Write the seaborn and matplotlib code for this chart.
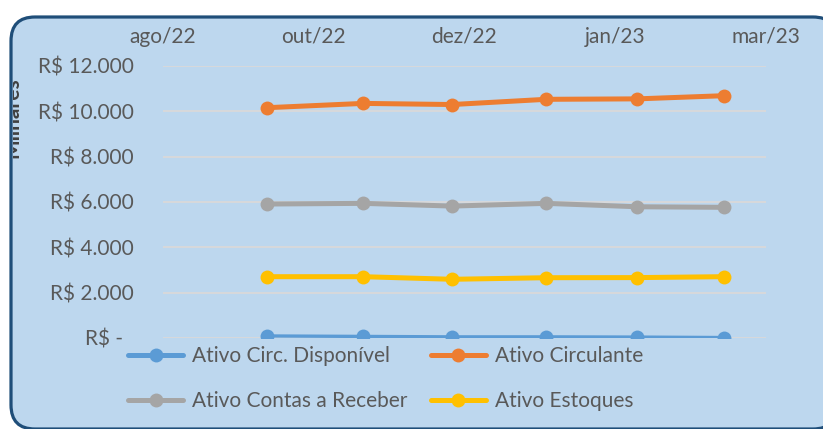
import pandas as pd
import matplotlib
matplotlib.use("Agg")
import matplotlib.pyplot as plt
from matplotlib.patches import FancyBboxPatch
from matplotlib.transforms import IdentityTransform, Bbox
import seaborn as sns

# dates of the six observations
DATES = ["2022-09-12", "2022-10-21", "2022-11-26", "2023-01-03", "2023-02-09", "2023-03-16"]

DISPONIVEL = [90, 70, 50, 50, 40, 20]
CIRCULANTE = [10160, 10350, 10300, 10530, 10550, 10690]
CONTAS_RECEBER = [5910, 5940, 5820, 5940, 5790, 5765]
ESTOQUES = [2705, 2705, 2590, 2660, 2665, 2705]

SERIES = ["Ativo Circ. Disponível", "Ativo Contas a Receber", "Ativo Circulante", "Ativo Estoques"]
COLORS = ["#5B9BD5", "#A5A5A5", "#ED7D31", "#FFC000"]

X_TICK_DATES = ["2022-08-01", "2022-10-01", "2022-12-01", "2023-01-31", "2023-04-02"]
X_TICK_LABELS = ["ago/22", "out/22", "dez/22", "jan/23", "mar/23"]
Y_TICKS = [0, 2000, 4000, 6000, 8000, 10000, 12000]

TEXT_COLOR = "#595959"
BG_COLOR = "#BDD7EE"
FS = 15

sns.set_theme(style="white")
plt.rcParams["font.family"] = ["Lato", "DejaVu Sans"]

values = {
    "Ativo Circ. Disponível": DISPONIVEL,
    "Ativo Contas a Receber": CONTAS_RECEBER,
    "Ativo Circulante": CIRCULANTE,
    "Ativo Estoques": ESTOQUES,
}
frames = []
for name in SERIES:
    frames.append(pd.DataFrame({"data": pd.to_datetime(DATES), "valor": values[name], "serie": name}))
df = pd.concat(frames, ignore_index=True)

fig = plt.figure(figsize=(8.23, 4.29), dpi=100)
fig.patch.set_facecolor("white")

# rounded chart area (runs off the right and bottom edges)
box = FancyBboxPatch((11, 0), 826, 412, boxstyle="round,pad=0,rounding_size=24",
                     transform=IdentityTransform(), facecolor=BG_COLOR,
                     edgecolor="#1F4E79", linewidth=2.3, zorder=0)
fig.add_artist(box)

ax = fig.add_axes([163 / 823, 91 / 429, 603 / 823, 272 / 429])
ax.set_facecolor("none")

for name, color in zip(SERIES, COLORS):
    sub = df[df["serie"] == name]
    lw = 2.4 if name == "Ativo Circ. Disponível" else 3.6
    sns.lineplot(data=sub, x="data", y="valor", ax=ax, color=color, linewidth=lw,
                 marker="o", markersize=10, markeredgewidth=0, label=name)

ax.set_ylim(0, 12000)
ax.set_yticks(Y_TICKS)
ax.set_yticklabels(["R$ -  "] + [f"R$ {v:,}".replace(",", ".") for v in Y_TICKS[1:]])
ax.set_xlim(pd.Timestamp(X_TICK_DATES[0]), pd.Timestamp(X_TICK_DATES[-1]))
ax.set_xticks(pd.to_datetime(X_TICK_DATES))
ax.set_xticklabels(X_TICK_LABELS)
ax.xaxis.tick_top()
ax.tick_params(axis="x", length=0, pad=14, labelsize=FS, colors=TEXT_COLOR)
ax.tick_params(axis="y", length=0, pad=21, labelsize=FS, colors=TEXT_COLOR)
ax.grid(axis="y", color="#D9D9D9", linewidth=1.3)
ax.set_axisbelow(True)
for s in ax.spines.values():
    s.set_visible(False)
ax.set_xlabel("")
ax.set_ylabel("")

# axis title, mostly hidden behind the border
t = fig.text(12 / 823, 1 - 118 / 429, "Milhares", rotation=90, ha="center", va="center",
             fontsize=15, color="#404040", fontweight="bold")
t.set_clip_box(Bbox([[13, 0], [823, 429]]))

leg = ax.legend(ncol=2, loc="upper left", bbox_to_anchor=(120 / 823, 1 - 338 / 429),
                bbox_transform=fig.transFigure, frameon=False, fontsize=FS, labelcolor=TEXT_COLOR,
                handlelength=2.64, handletextpad=0.43, columnspacing=1.1, labelspacing=1.2,
                borderaxespad=0)
for line in leg.get_lines():
    line.set_linewidth(3.6)

fig.savefig("out.png", dpi=100)
